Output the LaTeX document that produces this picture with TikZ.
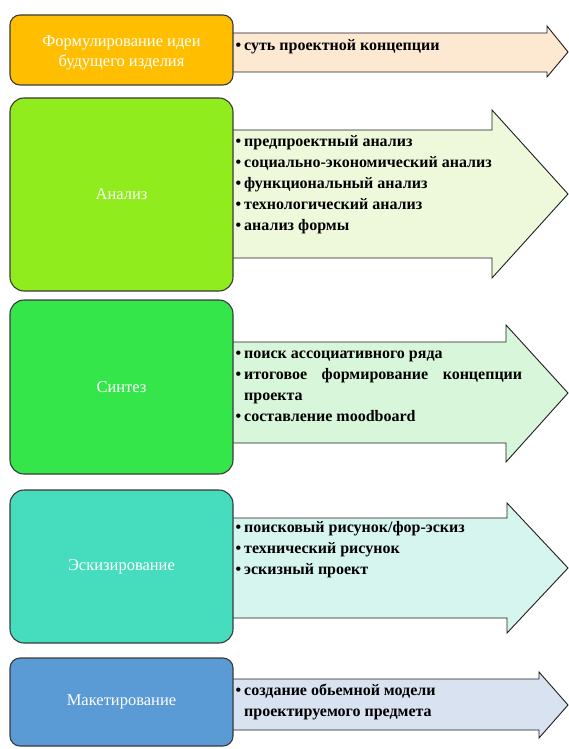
\documentclass[tikz,border=0pt]{standalone}
\usepackage{fontspec}
\setmainfont{Liberation Serif}
\usetikzlibrary{positioning}
\definecolor{boxLine}   {HTML}{3A3A3A}
\definecolor{arrowLine} {HTML}{1E1E1E}
\definecolor{ideaC}     {HTML}{FFBF00}
\definecolor{ideaFill}  {HTML}{FDE8D2}
\definecolor{analysisC} {HTML}{90EC1C}
\definecolor{analysisFill}{HTML}{EEF9DC}
\definecolor{synthC}    {HTML}{34E64A}
\definecolor{synthFill} {HTML}{D8F6D9}
\definecolor{sketchC}   {HTML}{46DCBE}
\definecolor{sketchFill}{HTML}{D6F5EE}
\definecolor{mockupC}   {HTML}{5A9AD5}
\definecolor{mockupFill}{HTML}{D9E2F0}
\newcommand{\stageFont}{\fontsize{16.5}{20}\selectfont}
\newcommand{\itemFont}{\fontsize{16}{21}\selectfont\bfseries}
\newcommand{\bitem}[1]{\par\noindent\llap{\textbullet\hspace{3pt}}#1}
\tikzset{
  stageBox/.style={draw=boxLine,line width=1.1pt,rounded corners=14pt,
                   text=white,font=\stageFont,align=center,inner sep=0pt,
                   minimum width=223pt},
  stageText/.style={text=white,font=\stageFont,align=center,inner sep=0pt},
  stageArrow/.style={draw=arrowLine,line width=0.9pt,line join=miter},
  itemList/.style={anchor=north west,text width=278pt,align=justify,
                   font=\itemFont,inner sep=0pt,
                   execute at begin node={\hyphenpenalty=10000\parskip=0pt}},
}

\begin{document}
\begin{tikzpicture}[x=1pt,y=-1pt]
\useasboundingbox (0,0) rectangle (569,749);

% Arrows first, their tails run behind the stage boxes.
\draw[stageArrow,fill=ideaFill]
  (220,33) -- (547,33) -- (547,26) -- (568,52) -- (547,77) -- (547,72) -- (220,72) -- cycle;
\draw[stageArrow,fill=analysisFill]
  (220,130) -- (492,130) -- (492,110) -- (568,194) -- (492,278) -- (492,258) -- (220,258) -- cycle;
\draw[stageArrow,fill=synthFill]
  (220,342) -- (506,342) -- (506,325) -- (568,393) -- (506,462) -- (506,443) -- (220,443) -- cycle;
\draw[stageArrow,fill=sketchFill]
  (220,518) -- (507,518) -- (507,503) -- (568,568) -- (507,633) -- (507,618) -- (220,618) -- cycle;
\draw[stageArrow,fill=mockupFill]
  (220,679) -- (539,679) -- (539,672) -- (568,705) -- (539,738) -- (539,730) -- (220,730) -- cycle;

% Stage boxes
\node[stageBox,fill=ideaC,minimum height=70pt,rounded corners=10pt]
  (ideaBox) at (121.5,50) {};
\node[stageText] (ideaText) at ([yshift=-3pt]ideaBox.center)
  {Формулирование идеи\\будущего изделия};
\node[stageBox,fill=analysisC,minimum height=193pt]
  (analysisBox) at (121.5,194.5) {Анализ};
\node[stageBox,fill=synthC,minimum height=174pt]
  (synthBox) at (121.5,387) {Синтез};
\node[stageBox,fill=sketchC,minimum height=153pt]
  (sketchBox) at (121.5,566.5) {Эскизирование};
\node[stageBox,fill=mockupC,minimum height=88pt,rounded corners=10pt]
  (mockupBox) at (121.5,702) {Макетирование};

% Item lists inside the arrows
\node[itemList] (ideaList) at (244,29) {%
  \bitem{суть проектной концепции}};
\node[itemList] (analysisList) at (244,125) {%
  \bitem{предпроектный анализ}
  \bitem{социально-экономический анализ}
  \bitem{функциональный анализ}
  \bitem{технологический анализ}
  \bitem{анализ формы}};
\node[itemList] (synthList) at (244,337) {%
  \bitem{поиск ассоциативного ряда}
  \bitem{итоговое формирование концепции проекта}
  \bitem{составление moodboard}};
\node[itemList] (sketchList) at (244,511) {%
  \bitem{поисковый рисунок/фор-эскиз}
  \bitem{технический рисунок}
  \bitem{эскизный проект}};
\node[itemList] (mockupList) at (244,674) {%
  \bitem{создание обьемной модели}\par\noindent проектируемого предмета};

\end{tikzpicture}
\end{document}
